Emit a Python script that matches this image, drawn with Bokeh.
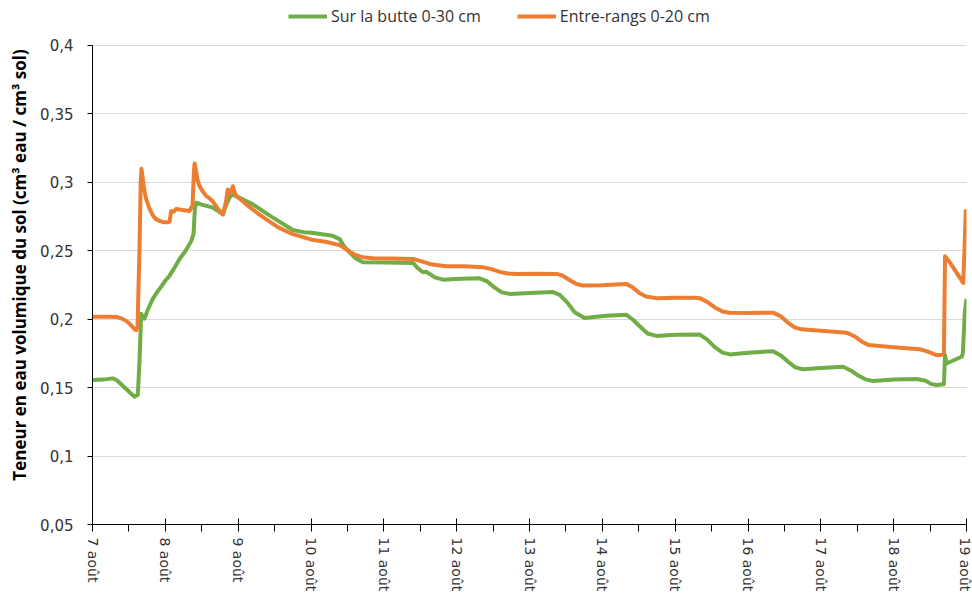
from bokeh.plotting import figure
from bokeh.models import FixedTicker, Legend, LegendItem, Range1d
from bokeh.embed import file_html
from bokeh.resources import INLINE

# Days since 7 août 00:00
day_labels = ["7 août", "8 août", "9 août", "10 août", "11 août", "12 août", "13 août",
              "14 août", "15 août", "16 août", "17 août", "18 août", "19 août"]
y_ticks = [0.05, 0.1, 0.15, 0.2, 0.25, 0.3, 0.35, 0.4]
y_tick_labels = ["0,05", "0,1", "0,15", "0,2", "0,25", "0,3", "0,35", "0,4"]

green_name = "Sur la butte 0-30 cm"
green_day = [0.0, 0.15, 0.279, 0.33, 0.40, 0.481, 0.54, 0.577, 0.622, 0.646, 0.669, 0.690,
             0.714, 0.76, 0.828, 0.89, 0.948, 1.00, 1.058, 1.12, 1.195, 1.28, 1.356, 1.387,
             1.405, 1.424, 1.50, 1.58, 1.652, 1.72, 1.790, 1.84, 1.905, 1.974, 2.08, 2.202,
             2.45, 2.751, 2.9, 3.008, 3.297, 3.393, 3.45, 3.53, 3.62, 3.713, 4.05, 4.400,
             4.47, 4.537, 4.58, 4.629, 4.70, 4.812, 5.05, 5.316, 5.42, 5.522, 5.62, 5.728,
             6.0, 6.323, 6.415, 6.52, 6.62, 6.758, 7.05, 7.331, 7.42, 7.51, 7.62, 7.743,
             8.0, 8.338, 8.44, 8.544, 8.65, 8.75, 9.0, 9.345, 9.45, 9.547, 9.65, 9.757,
             10.0, 10.306, 10.41, 10.508, 10.61, 10.718, 11.0, 11.315, 11.44, 11.52, 11.589,
             11.69, 11.705, 11.725, 11.933, 11.95, 11.977, 12.0]
green_val = [0.1555, 0.1558, 0.1567, 0.1555, 0.152, 0.148, 0.145, 0.1434, 0.1446, 0.17, 0.2039, 0.2015,
             0.2003, 0.207, 0.2148, 0.220, 0.224, 0.228, 0.2317, 0.237, 0.2439, 0.250, 0.2571, 0.262,
             0.280, 0.285, 0.2835, 0.2825, 0.2814, 0.279, 0.2765, 0.284, 0.2911, 0.2898, 0.287, 0.2838,
             0.275, 0.2651, 0.2635, 0.263, 0.2608, 0.2584, 0.2535, 0.2487, 0.244, 0.2415, 0.2413, 0.241,
             0.237, 0.2342, 0.2345, 0.233, 0.2305, 0.2288, 0.2295, 0.2298, 0.2275, 0.223, 0.2195, 0.2184,
             0.219, 0.2197, 0.2177, 0.212, 0.205, 0.2008, 0.2025, 0.2032, 0.1995, 0.195, 0.1895, 0.1877,
             0.1885, 0.1887, 0.185, 0.1795, 0.1755, 0.1742, 0.1755, 0.1766, 0.1735, 0.169, 0.1648, 0.1633,
             0.1642, 0.1652, 0.1625, 0.159, 0.156, 0.1548, 0.1558, 0.1562, 0.155, 0.1525, 0.1519,
             0.1524, 0.1737, 0.1676, 0.1725, 0.175, 0.2052, 0.2148]

orange_name = "Entre-rangs 0-20 cm"
orange_day = [0.0, 0.20, 0.343, 0.42, 0.481, 0.54, 0.577, 0.60, 0.618, 0.645, 0.662, 0.672,
              0.685, 0.70, 0.72, 0.738, 0.78, 0.824, 0.87, 0.920, 0.97, 1.030, 1.058, 1.081,
              1.12, 1.15, 1.195, 1.26, 1.332, 1.374, 1.390, 1.401, 1.42, 1.445, 1.470, 1.51,
              1.562, 1.60, 1.648, 1.69, 1.717, 1.76, 1.790, 1.83, 1.858, 1.896, 1.927, 1.95,
              1.974, 2.03, 2.111, 2.25, 2.386, 2.55, 2.751, 3.008, 3.20, 3.393, 3.50, 3.60,
              3.713, 3.85, 4.10, 4.400, 4.50, 4.629, 4.72, 4.859, 5.10, 5.361, 5.48, 5.59,
              5.70, 5.82, 6.10, 6.37, 6.45, 6.55, 6.65, 6.735, 7.0, 7.25, 7.331, 7.42, 7.51,
              7.60, 7.743, 8.0, 8.25, 8.338, 8.44, 8.544, 8.65, 8.75, 9.0, 9.345, 9.45, 9.547,
              9.64, 9.735, 10.0, 10.353, 10.46, 10.564, 10.66, 10.765, 11.0, 11.36, 11.48,
              11.589, 11.65, 11.69, 11.705, 11.75, 11.85, 11.955, 11.972, 11.99, 12.0]
orange_val = [0.2018, 0.2018, 0.2015, 0.200, 0.198, 0.195, 0.1925, 0.192, 0.194, 0.25, 0.300, 0.3097,
              0.305, 0.298, 0.292, 0.2874, 0.281, 0.276, 0.273, 0.2717, 0.2708, 0.2707, 0.2712, 0.279,
              0.2785, 0.2805, 0.280, 0.2795, 0.279, 0.283, 0.305, 0.3136, 0.309, 0.301, 0.2971, 0.2935,
              0.2898, 0.2885, 0.2862, 0.283, 0.281, 0.278, 0.2765, 0.285, 0.2947, 0.292, 0.297, 0.293,
              0.2898, 0.2875, 0.2838, 0.278, 0.2729, 0.267, 0.262, 0.258, 0.2565, 0.254, 0.2505, 0.247,
              0.2451, 0.2445, 0.2443, 0.2439, 0.2425, 0.2403, 0.2395, 0.2386, 0.2385, 0.2379, 0.2365, 0.2345,
              0.2333, 0.233, 0.2332, 0.233, 0.2318, 0.2285, 0.2255, 0.2245, 0.2248, 0.2255, 0.2257, 0.223, 0.219,
              0.2165, 0.2153, 0.2155, 0.2155, 0.2153, 0.2125, 0.2085, 0.2055, 0.2047, 0.2045, 0.2047, 0.202, 0.1975,
              0.194, 0.1925, 0.1915, 0.1901, 0.1875, 0.1835, 0.181, 0.1805, 0.1795, 0.178, 0.176,
              0.1737, 0.1738, 0.175, 0.2458, 0.243, 0.235, 0.2264, 0.25, 0.279, 0.278]

GREEN = "#70ad47"
ORANGE = "#ed7d31"
FONT = "DejaVu Sans"
TXT = "#333333"

# Frame extends above 0.4 to leave room for the legend; axis stops at 0.4.
p = figure(width=972, height=594, output_backend="svg", toolbar_location=None,
           x_range=Range1d(0, 12), y_range=Range1d(0.05, 0.4290),
           min_border_left=92, min_border_right=6, min_border_top=5, min_border_bottom=67)
p.outline_line_color = None
p.background_fill_color = "white"

g = p.line(green_day, green_val, line_color=GREEN, line_width=4, line_join="round")
o = p.line(orange_day, orange_val, line_color=ORANGE, line_width=4, line_join="round")

# X axis
p.xaxis.ticker = FixedTicker(ticks=list(range(len(day_labels))),
                             minor_ticks=[i + 0.5 for i in range(len(day_labels) - 1)])
p.xaxis.major_label_overrides = {i: lab for i, lab in enumerate(day_labels)}
p.xaxis.major_label_orientation = "vertical"
p.xaxis.major_label_text_font = FONT
p.xaxis.major_label_text_font_size = "14px"
p.xaxis.major_label_text_color = TXT
p.xaxis.major_tick_in = 6
p.xaxis.major_tick_out = 7
p.xaxis.minor_tick_in = 0
p.xaxis.minor_tick_out = 7
p.xaxis.major_label_standoff = 6
p.xaxis.axis_line_color = "black"
p.xaxis.major_tick_line_color = "black"
p.xaxis.minor_tick_line_color = "black"
p.xgrid.visible = False

# Y axis
p.yaxis.ticker = FixedTicker(ticks=y_ticks, minor_ticks=[])
p.yaxis.bounds = (y_ticks[0], y_ticks[-1])
p.yaxis.major_label_overrides = {t: lab for t, lab in zip(y_ticks, y_tick_labels)}
p.yaxis.major_label_text_font = FONT
p.yaxis.major_label_text_font_size = "15px"
p.yaxis.major_label_text_color = TXT
p.yaxis.major_tick_in = 0
p.yaxis.major_tick_out = 5
p.yaxis.major_label_standoff = 14
p.yaxis.axis_line_color = "black"
p.yaxis.major_tick_line_color = "black"
p.yaxis.axis_label = "Teneur en eau volumique du sol (cm³ eau / cm³ sol)"
p.yaxis.axis_label_text_font = "Open Sans"
p.yaxis.axis_label_text_font_size = "17px"
p.yaxis.axis_label_text_font_style = "bold"
p.yaxis.axis_label_text_color = "black"
p.yaxis.axis_label_standoff = 6
p.ygrid.grid_line_color = "#d9d9d9"
p.ygrid.grid_line_width = 1

legend = Legend(items=[LegendItem(label=green_name, renderers=[g]),
                       LegendItem(label=orange_name, renderers=[o])],
                orientation="horizontal", location=(196, 497),
                glyph_width=39, glyph_height=16, label_standoff=4, spacing=36,
                padding=0, margin=0, border_line_color=None, background_fill_alpha=0,
                label_text_font="Open Sans", label_text_font_size="16px",
                label_text_color=TXT, label_height=16)
p.add_layout(legend)

open("out.html", "w").write(file_html(p, INLINE))
